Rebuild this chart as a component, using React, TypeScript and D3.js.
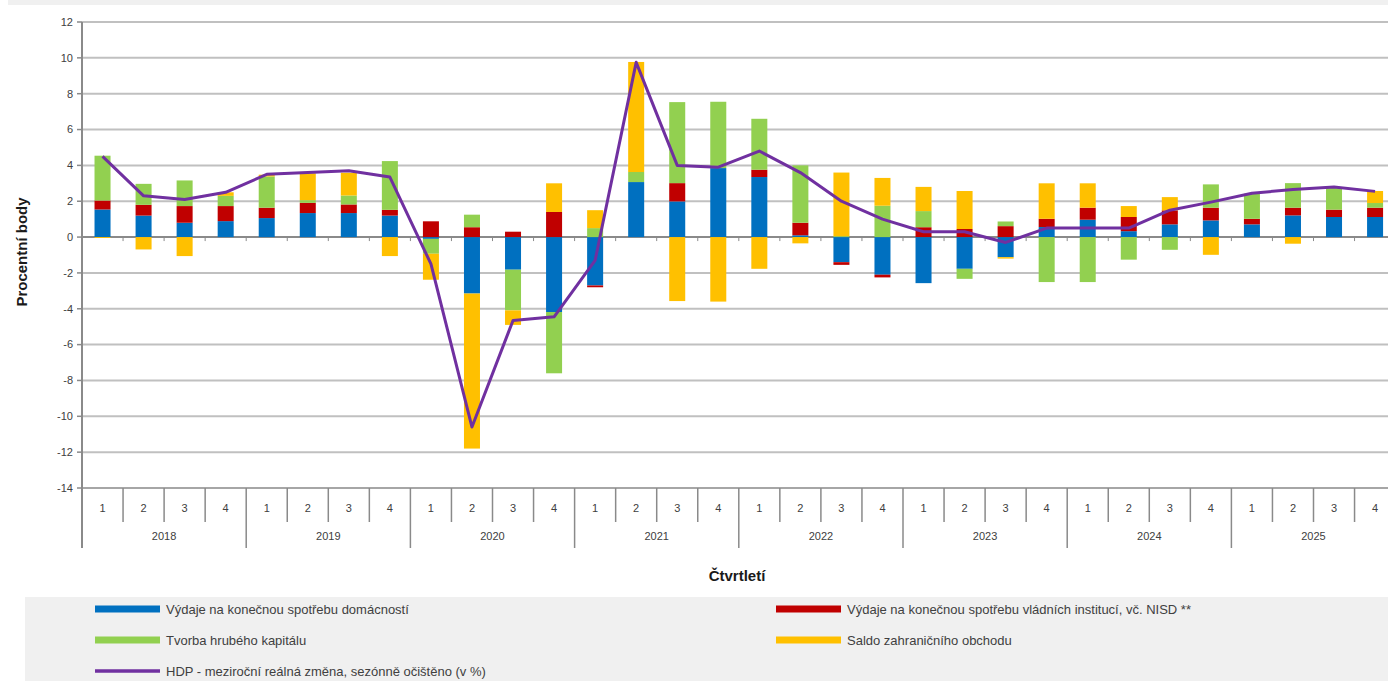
import React from "react";
import * as d3 from "d3";

const years = ["2018", "2019", "2020", "2021", "2022", "2023", "2024", "2025"];
const quarters = ["1", "2", "3", "4"];

// příspěvky ke změně HDP (procentní body)
const households = [
  1.54, 1.2, 0.8, 0.89,
  1.06, 1.34, 1.34, 1.2,
  -0.1, -3.15, -1.82, -4.18,
  -2.7, 3.07, 1.99, 3.85,
  3.35, 0.1, -1.4, -2.1,
  -2.57, -1.77, -1.12, 0.56,
  0.97, 0.33, 0.71, 0.93,
  0.71, 1.21, 1.12, 1.12,
];
const government = [
  0.5, 0.6, 0.93, 0.84,
  0.58, 0.57, 0.48, 0.32,
  0.88, 0.55, 0.3, 1.4,
  -0.1, 0, 1.02, 0,
  0.41, 0.7, -0.15, -0.15,
  0.55, 0.45, 0.61, 0.46,
  0.67, 0.79, 0.78, 0.71,
  0.31, 0.43, 0.41, 0.52,
];
const capital = [
  2.5, 1.17, 1.43, 0.57,
  1.74, 0.15, 0.5, 2.72,
  -0.83, 0.7, -2.27, -3.42,
  0.5, 0.56, 4.52, 3.7,
  2.84, 3.2, 0.05, 1.75,
  0.9, -0.56, 0.26, -2.51,
  -2.51, -1.26, -0.71, 1.3,
  1.4, 1.37, 1.26, 0.26,
];
const netExports = [
  -0.05, -0.69, -1.06, 0.2,
  0.1, 1.5, 1.27, -1.06,
  -1.45, -8.65, -0.81, 1.6,
  1.0, 6.14, -3.57, -3.6,
  -1.77, -0.35, 3.55, 1.55,
  1.35, 2.12, -0.08, 1.98,
  1.36, 0.61, 0.74, -0.99,
  0, -0.37, 0, 0.67,
];
const gdp = [
  4.5, 2.3, 2.1, 2.5,
  3.5, 3.6, 3.7, 3.35,
  -1.5, -10.6, -4.65, -4.45,
  -1.3, 9.75, 4.0, 3.9,
  4.8, 3.6, 2.0, 1.0,
  0.3, 0.3, -0.3, 0.5,
  0.5, 0.5, 1.5, 1.95,
  2.45, 2.65, 2.8, 2.55,
];
const yTicks = [12, 10, 8, 6, 4, 2, 0, -2, -4, -6, -8, -10, -12, -14];

const seriesNames = [
  "Výdaje na konečnou spotřebu domácností",
  "Výdaje na konečnou spotřebu vládních institucí, vč. NISD **",
  "Tvorba hrubého kapitálu",
  "Saldo zahraničního obchodu",
];
const lineName = "HDP - meziroční reálná změna, sezónně očištěno (v %)";
const colors = ["#0070C0", "#C00000", "#92D050", "#FFC000"];
const lineColor = "#7030A0";

const W = 1388;
const H = 681;
const font = "'Liberation Sans', Arial, sans-serif";

export default function App() {
  const n = households.length;
  const rows = d3.range(n).map((i) => ({
    i,
    s0: households[i],
    s1: government[i],
    s2: capital[i],
    s3: netExports[i],
  }));
  const keys = ["s0", "s1", "s2", "s3"];
  const stacked = d3.stack<any>().keys(keys).offset(d3.stackOffsetDiverging)(rows);

  const x = d3
    .scaleBand<number>()
    .domain(d3.range(n))
    .range([82, 1395.6])
    .paddingInner(0.61)
    .paddingOuter(0.305);
  const step = x.step();
  const y = d3.scaleLinear().domain([-14, 12]).range([488, 22]);

  const line = d3
    .line<number>()
    .x((_, i) => (x(i) as number) + x.bandwidth() / 2)
    .y((d) => y(d));

  const left = 82;
  const bottom = y(-14);
  const bounds = d3.range(n + 1).map((i) => left + i * step);

  return (
    <div style={{ position: "fixed", left: 0, top: 0, width: W, height: H, background: "#fff" }}>
      <svg width={W} height={H} style={{ display: "block", fontFamily: font }}>
        <rect x={8} y={0} width={W - 8} height={5} fill="#f0f0f0" />

        {/* mřížka */}
        {yTicks.map((t) => (
          <line
            key={"g" + t}
            x1={left}
            x2={W}
            y1={y(t)}
            y2={y(t)}
            stroke={t === 0 ? "#8a8a8a" : t === -14 ? "#a6a6a6" : "#c0c0c0"}
            strokeWidth={2}
          />
        ))}

        {/* sloupce */}
        {stacked.map((s, si) => (
          <g key={"s" + si} fill={colors[si]}>
            {s.map((d, i) => {
              const top = Math.max(d[0], d[1]);
              const bot = Math.min(d[0], d[1]);
              if (top - bot <= 0) return null;
              return (
                <rect
                  key={i}
                  x={x(i)}
                  width={x.bandwidth()}
                  y={y(top)}
                  height={y(bot) - y(top)}
                />
              );
            })}
          </g>
        ))}

        {/* drobné značky na nulové ose */}
        {bounds.map((bx, i) => (
          <line key={"zt" + i} x1={bx} x2={bx} y1={y(0)} y2={y(0) + 4} stroke="#8a8a8a" strokeWidth={1} />
        ))}

        {/* HDP */}
        <path d={line(gdp) || ""} fill="none" stroke={lineColor} strokeWidth={3} strokeLinejoin="round" />

        {/* osa y */}
        <line x1={left} x2={left} y1={y(12)} y2={548} stroke="#8a8a8a" strokeWidth={2} />
        {yTicks.map((t) => (
          <g key={"yt" + t}>
            <line x1={left - 5} x2={left} y1={y(t)} y2={y(t)} stroke="#8a8a8a" strokeWidth={1.5} />
            <text x={73} y={y(t)} dy="0.35em" textAnchor="end" fontSize={11} fill="#404040">
              {t}
            </text>
          </g>
        ))}
        <text
          transform={`translate(27,252) rotate(-90)`}
          textAnchor="middle"
          fontSize={15}
          fontWeight="bold"
          fill="#1a1a1a"
        >
          Procentní body
        </text>

        {/* osa x */}
        {bounds.map((bx, i) =>
          i === 0 ? null : (
            <line
              key={"xb" + i}
              x1={bx}
              x2={bx}
              y1={bottom}
              y2={i % 4 === 0 ? 548 : 522}
              stroke="#8a8a8a"
              strokeWidth={1.5}
            />
          )
        )}
        {rows.map((r) => (
          <text
            key={"q" + r.i}
            x={(x(r.i) as number) + x.bandwidth() / 2}
            y={508}
            dy="0.35em"
            textAnchor="middle"
            fontSize={11}
            fill="#404040"
          >
            {quarters[r.i % 4]}
          </text>
        ))}
        {years.map((yr, k) => (
          <text
            key={yr}
            x={left + (k * 4 + 2) * step}
            y={536}
            dy="0.35em"
            textAnchor="middle"
            fontSize={11}
            fill="#404040"
          >
            {yr}
          </text>
        ))}
        <text x={737} y={576} dy="0.35em" textAnchor="middle" fontSize={15} fontWeight="bold" fill="#1a1a1a">
          Čtvrtletí
        </text>

        {/* legenda */}
        <rect x={25} y={597} width={W - 25} height={H - 597} fill="#f0f0f0" />
        {[0, 1, 2, 3].map((si) => {
          const lx = si % 2 === 0 ? 95 : 776;
          const ly = 609 + Math.floor(si / 2) * 31;
          return (
            <g key={"l" + si}>
              <rect x={lx} y={ly - 3.5} width={65} height={7} fill={colors[si]} />
              <text x={lx + 71} y={ly} dy="0.35em" fontSize={13} fill="#404040">
                {seriesNames[si]}
              </text>
            </g>
          );
        })}
        <line x1={95} x2={160} y1={671} y2={671} stroke={lineColor} strokeWidth={3.5} />
        <text x={166} y={671} dy="0.35em" fontSize={13} fill="#404040">
          {lineName}
        </text>
      </svg>
    </div>
  );
}
